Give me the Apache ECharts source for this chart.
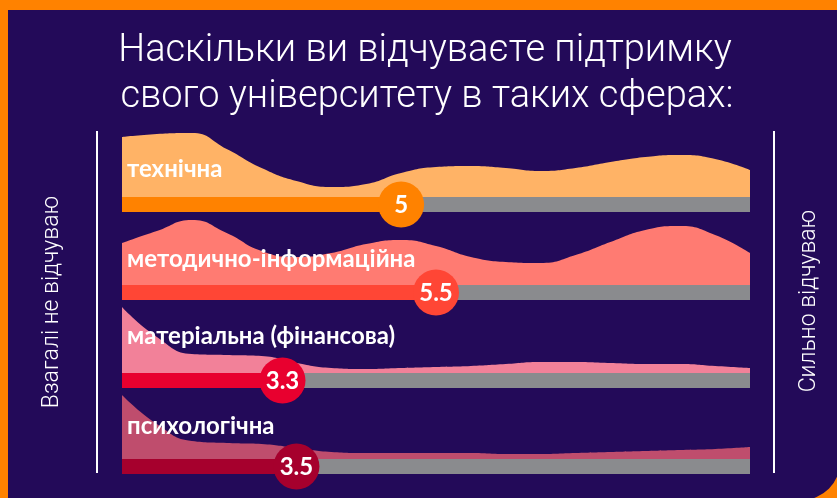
<!DOCTYPE html>
<html>
<head>
<meta charset="utf-8">
<script src="https://cdn.jsdelivr.net/npm/echarts@6/dist/echarts.min.js"></script>
<style>
  html, body { margin: 0; padding: 0; background: #ff8200; }
  #chart { width: 837px; height: 498px; }
</style>
</head>
<body>
<div id="chart"></div>
<script>
// шкала оцінок 1..10
let scores = [1, 1.5, 2, 2.5, 3, 3.5, 4, 4.5, 5, 5.5, 6, 6.5, 7, 7.5, 8, 8.5, 9, 9.5, 10];

let categories = ['технічна', 'методично-інформаційна', 'матеріальна (фінансова)', 'психологічна'];
let averages = [5, 5.5, 3.3, 3.5];

// розподіл відповідей (щільність) по кожній сфері
let techDensity = [60, 63, 64, 48, 29, 16, 10, 13, 24, 30, 31, 29, 26, 29, 35, 40, 42, 38, 27];
let methodDensity = [42, 54, 65, 52, 34, 28, 32, 41, 45, 39, 28, 23, 22, 30, 43, 55, 59, 50, 32];
let materialDensity = [66, 36, 19, 18, 17, 10, 5, 4, 5, 6, 7, 9, 11, 11, 10, 9, 9, 7, 5];
let psychoDensity = [64, 35, 18, 16, 15, 11, 7, 6, 6, 6, 6, 5, 5, 6, 7, 8, 9, 10, 12];

let densities = [techDensity, methodDensity, materialDensity, psychoDensity];

let areaColors = ['#ffb366', '#ff7b72', '#f28199', '#bf4d6d'];
let barColors = ['#ff8200', '#ff4635', '#e8002f', '#a6002d'];
let trackColor = '#8a8b8e';

let baselines = [197, 285, 373, 459];
let labelBaselines = [181, 271, 348, 438];

let chart = echarts.init(document.getElementById('chart'));

let grids = [], xAxes = [], yAxes = [], series = [];

baselines.forEach((yb, i) => {
  grids.push({ left: 122, right: 87, top: yb - 70, height: 85 });
  xAxes.push({ gridIndex: i, type: 'value', min: 1, max: 10, show: false });
  yAxes.push({ gridIndex: i, type: 'value', min: -15, max: 70, show: false });

  series.push({
    type: 'line',
    xAxisIndex: i,
    yAxisIndex: i,
    smooth: 0.5,
    symbol: 'none',
    lineStyle: { width: 0 },
    areaStyle: { color: areaColors[i], opacity: 1 },
    data: scores.map((s, k) => [s, densities[i][k]]),
    silent: true
  });

  series.push({
    type: 'custom',
    xAxisIndex: i,
    yAxisIndex: i,
    z: 5,
    data: [[averages[i]]],
    renderItem: (params, api) => {
      let start = api.coord([1, 0]);
      let end = api.coord([10, 0]);
      let mid = api.coord([api.value(0), 0]);
      let h = api.size([0, 15])[1];
      return {
        type: 'group',
        children: [
          { type: 'rect', shape: { x: start[0], y: start[1], width: end[0] - start[0], height: h }, style: { fill: trackColor } },
          { type: 'rect', shape: { x: start[0], y: start[1], width: mid[0] - start[0], height: h }, style: { fill: barColors[i] } },
          { type: 'circle', shape: { cx: mid[0], cy: start[1] + h / 2, r: 23 }, style: { fill: barColors[i] } },
          {
            type: 'text',
            x: mid[0],
            y: start[1] + h / 2 + 1,
            style: {
              text: String(api.value(0)),
              fill: '#fff',
              font: 'bold 24px Lato',
              align: 'center',
              verticalAlign: 'middle'
            }
          }
        ]
      };
    }
  });
});

let graphics = [
  { type: 'rect', z: -10, shape: { x: 8, y: 10, width: 832, height: 490, r: [0, 0, 38, 0] }, style: { fill: '#230a59' } },
  {
    type: 'text', z: 100, x: 425, y: 51,
    style: { text: 'Наскільки ви відчуваєте підтримку', fill: '#fff', font: '300 38px Roboto', align: 'center', verticalAlign: 'middle' }
  },
  {
    type: 'text', z: 100, x: 427, y: 97,
    style: { text: 'свого університету в таких сферах:', fill: '#fff', font: '300 38px Roboto', align: 'center', verticalAlign: 'middle' }
  },
  { type: 'line', z: 100, shape: { x1: 97, y1: 131, x2: 97, y2: 473 }, style: { stroke: '#fff', lineWidth: 2 } },
  { type: 'line', z: 100, shape: { x1: 774, y1: 131, x2: 774, y2: 473 }, style: { stroke: '#fff', lineWidth: 2 } },
  {
    type: 'text', z: 100, x: 52, y: 302, rotation: Math.PI / 2,
    style: { text: 'Взагалі не відчуваю', fill: '#fff', font: '300 23px Roboto', align: 'center', verticalAlign: 'middle' }
  },
  {
    type: 'text', z: 100, x: 809, y: 301, rotation: Math.PI / 2,
    style: { text: 'Сильно відчуваю', fill: '#fff', font: '300 23px Roboto', align: 'center', verticalAlign: 'middle' }
  }
];

categories.forEach((name, i) => {
  graphics.push({
    type: 'text', z: 100, x: 127, y: labelBaselines[i],
    style: { text: name, fill: '#fff', font: 'bold 24px Lato', align: 'left', verticalAlign: 'bottom' }
  });
});

chart.setOption({
  backgroundColor: '#ff8200',
  animation: false,
  grid: grids,
  xAxis: xAxes,
  yAxis: yAxes,
  series: series,
  graphic: graphics
});
</script>
</body>
</html>
